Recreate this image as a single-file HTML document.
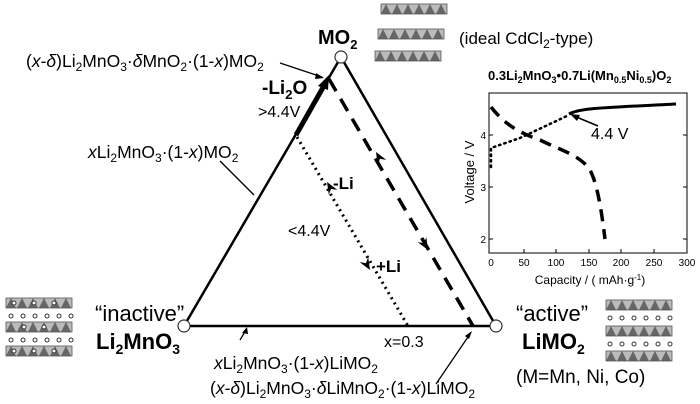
<!DOCTYPE html>
<html><head><meta charset="utf-8"><style>
body{margin:0;background:#fff;}
svg{display:block;font-family:"Liberation Sans",Arial,sans-serif;}
</style></head><body>
<svg width="700" height="404" viewBox="0 0 700 404" xmlns="http://www.w3.org/2000/svg">
<defs>
<g id="bar"><rect x="0" y="0" width="66" height="10" fill="#bbb"/>
<polygon points="0,10 5,0 10,10" fill="#666"/><polygon points="11,10 16,0 21,10" fill="#666"/><polygon points="22,10 27,0 32,10" fill="#666"/><polygon points="33,10 38,0 43,10" fill="#666"/><polygon points="44,10 49,0 54,10" fill="#666"/><polygon points="55,10 60,0 65,10" fill="#666"/>
<rect x="0" y="0" width="66" height="10" fill="none" stroke="#555" stroke-width="0.8"/></g>
<g id="dots"><circle cx="3" cy="0" r="2" fill="#fff" stroke="#333"/><circle cx="15" cy="0" r="2" fill="#fff" stroke="#333"/><circle cx="27" cy="0" r="2" fill="#fff" stroke="#333"/><circle cx="39" cy="0" r="2" fill="#fff" stroke="#333"/><circle cx="51" cy="0" r="2" fill="#fff" stroke="#333"/><circle cx="63" cy="0" r="2" fill="#fff" stroke="#333"/></g>
</defs>

<use href="#bar" x="381" y="4"/><use href="#bar" x="378" y="29"/><use href="#bar" x="375" y="51"/>
<use href="#bar" x="606" y="300"/><use href="#dots" x="607" y="318"/><use href="#bar" x="606" y="326"/><use href="#dots" x="607" y="344"/><use href="#bar" x="606" y="351"/>
<use href="#bar" x="6" y="298"/><use href="#dots" x="8" y="316"/><use href="#bar" x="6" y="322"/><use href="#dots" x="8" y="340"/><use href="#bar" x="6" y="346"/>
<g fill="#fff" stroke="#333"><circle cx="14" cy="303" r="2"/><circle cx="34" cy="303" r="2"/><circle cx="54" cy="303" r="2"/><circle cx="24" cy="327" r="2"/><circle cx="44" cy="327" r="2"/><circle cx="14" cy="351" r="2"/><circle cx="34" cy="351" r="2"/><circle cx="54" cy="351" r="2"/></g>

<polyline points="184,326 341,57 496,326 184,326" fill="none" stroke="#000" stroke-width="2.5"/>
<line x1="296" y1="135" x2="325" y2="84" stroke="#000" stroke-width="5"/>
<polygon points="329,75 318,86 328,90" fill="#000"/>
<line x1="329" y1="79" x2="473" y2="326" stroke="#000" stroke-width="3.5" stroke-dasharray="14,9"/>
<line x1="297" y1="137" x2="408" y2="326" stroke="#000" stroke-width="3" stroke-dasharray="2,4"/>
<polygon points="376,152 386.3,159.9 380,158.9 377.7,164.9" fill="#000"/>
<polygon points="428,250 426.3,237.1 424,243.1 417.7,242.1" fill="#000"/>
<polygon points="327,182 337.4,189.9 331,188.9 328.8,194.9" fill="#000"/>
<polygon points="370,270 368.2,257.1 366,263.1 359.6,262.1" fill="#000"/>
<circle cx="341" cy="57" r="6" fill="#fff" stroke="#333" stroke-width="1.2"/>
<circle cx="184" cy="326" r="6" fill="#fff" stroke="#333" stroke-width="1.2"/>
<circle cx="496" cy="326" r="6" fill="#fff" stroke="#333" stroke-width="1.2"/>

<line x1="280" y1="63" x2="322" y2="77" stroke="#000" stroke-width="1.3"/><polygon points="324,78 316,73 315,79" fill="#000"/>
<line x1="220" y1="161" x2="254" y2="195" stroke="#000" stroke-width="1.3"/>
<line x1="240" y1="340" x2="246" y2="330" stroke="#000" stroke-width="1.3"/><polygon points="247,327 242,333 248,334" fill="#000"/>
<line x1="436" y1="384" x2="470" y2="334" stroke="#000" stroke-width="1.3"/><polygon points="472,331 465,336 469,339" fill="#000"/>

<text x="318" y="44" font-size="20" font-weight="bold">MO<tspan font-size="13" dy="5">2</tspan></text>
<text x="459" y="44" font-size="17">(ideal CdCl<tspan font-size="12" dy="4">2</tspan><tspan dy="-4">-type)</tspan></text>
<text x="26" y="67" font-size="17.5">(<tspan font-style="italic">x</tspan>-<tspan font-style="italic">δ</tspan>)Li<tspan font-size="12" dy="4">2</tspan><tspan dy="-4">MnO</tspan><tspan font-size="12" dy="4">3</tspan><tspan dy="-4">·</tspan><tspan font-style="italic">δ</tspan>MnO<tspan font-size="12" dy="4">2</tspan><tspan dy="-4">·(1-</tspan><tspan font-style="italic">x</tspan>)MO<tspan font-size="12" dy="4">2</tspan></text>
<text x="262" y="94" font-size="19" font-weight="bold">-Li<tspan font-size="13" dy="5">2</tspan><tspan dy="-5">O</tspan></text>
<text x="258" y="117" font-size="16">&gt;4.4V</text>
<text x="88" y="158" font-size="17.5"><tspan font-style="italic">x</tspan>Li<tspan font-size="12" dy="4">2</tspan><tspan dy="-4">MnO</tspan><tspan font-size="12" dy="4">3</tspan><tspan dy="-4">·(1-</tspan><tspan font-style="italic">x</tspan>)MO<tspan font-size="12" dy="4">2</tspan></text>
<text x="333" y="189" font-size="17" font-weight="bold">-Li</text>
<text x="288" y="236" font-size="16">&lt;4.4V</text>
<text x="376" y="272" font-size="17" font-weight="bold">+Li</text>
<text x="384" y="347" font-size="16">x=0.3</text>
<text x="95" y="321" font-size="22">“inactive”</text>
<text x="96" y="349" font-size="22" font-weight="bold">Li<tspan font-size="14" dy="5">2</tspan><tspan dy="-5">MnO</tspan><tspan font-size="14" dy="5">3</tspan></text>
<text x="516" y="321" font-size="22">“active”</text>
<text x="522" y="349" font-size="22" font-weight="bold">LiMO<tspan font-size="14" dy="5">2</tspan></text>
<text x="516" y="383" font-size="19">(M=Mn, Ni, Co)</text>
<text x="214" y="369" font-size="17.5"><tspan font-style="italic">x</tspan>Li<tspan font-size="12" dy="4">2</tspan><tspan dy="-4">MnO</tspan><tspan font-size="12" dy="4">3</tspan><tspan dy="-4">·(1-</tspan><tspan font-style="italic">x</tspan>)LiMO<tspan font-size="12" dy="4">2</tspan></text>
<text x="210" y="394" font-size="17.5">(<tspan font-style="italic">x</tspan>-<tspan font-style="italic">δ</tspan>)Li<tspan font-size="12" dy="4">2</tspan><tspan dy="-4">MnO</tspan><tspan font-size="12" dy="4">3</tspan><tspan dy="-4">·</tspan><tspan font-style="italic">δ</tspan>LiMnO<tspan font-size="12" dy="4">2</tspan><tspan dy="-4">·(1-</tspan><tspan font-style="italic">x</tspan>)LiMO<tspan font-size="12" dy="4">2</tspan></text>

<text x="488" y="80" font-size="13" font-weight="bold">0.3Li<tspan font-size="9" dy="3">2</tspan><tspan dy="-3">MnO</tspan><tspan font-size="9" dy="3">3</tspan><tspan dy="-3">•0.7Li(Mn</tspan><tspan font-size="9" dy="3">0.5</tspan><tspan dy="-3">Ni</tspan><tspan font-size="9" dy="3">0.5</tspan><tspan dy="-3">)O</tspan><tspan font-size="9" dy="3">2</tspan></text>
<rect x="489" y="93" width="198" height="160" fill="none" stroke="#000" stroke-width="1"/>
<g stroke="#000" stroke-width="1">
<line x1="489" y1="135" x2="493" y2="135"/><line x1="489" y1="187" x2="493" y2="187"/><line x1="489" y1="239" x2="493" y2="239"/>
<line x1="683" y1="135" x2="687" y2="135"/><line x1="683" y1="187" x2="687" y2="187"/><line x1="683" y1="239" x2="687" y2="239"/>
<line x1="524" y1="253" x2="524" y2="249"/><line x1="556" y1="253" x2="556" y2="249"/><line x1="589" y1="253" x2="589" y2="249"/><line x1="621" y1="253" x2="621" y2="249"/><line x1="654" y1="253" x2="654" y2="249"/>
</g>
<g font-size="10" text-anchor="end"><text x="486" y="139">4</text><text x="486" y="191">3</text><text x="486" y="243">2</text></g>
<g font-size="10" text-anchor="middle"><text x="491" y="266">0</text><text x="524" y="266">50</text><text x="556" y="266">100</text><text x="589" y="266">150</text><text x="621" y="266">200</text><text x="654" y="266">250</text><text x="687" y="266">300</text></g>
<text x="590" y="284" font-size="12" text-anchor="middle">Capacity / ( mAh·g<tspan font-size="8" dy="-4">-1</tspan><tspan dy="4">)</tspan></text>
<text transform="translate(474,172) rotate(-90)" font-size="13" text-anchor="middle">Voltage / V</text>
<path d="M569,114 C580,108 600,108 676,104" fill="none" stroke="#000" stroke-width="3"/>
<path d="M491,167 L491,148 L520,138 L569,115" fill="none" stroke="#000" stroke-width="2.5" stroke-dasharray="1.5,4" stroke-linecap="round"/>
<path d="M491,107 C505,125 520,133 540,140 C560,150 580,155 590,170 C598,185 602,215 605,239" fill="none" stroke="#000" stroke-width="3.5" stroke-dasharray="12,8"/>
<line x1="598" y1="126" x2="574" y2="116" stroke="#000" stroke-width="1.5"/><polygon points="570,114 580,115 577,121" fill="#000"/>
<text x="591" y="139" font-size="16">4.4 V</text>
</svg>
</body></html>
